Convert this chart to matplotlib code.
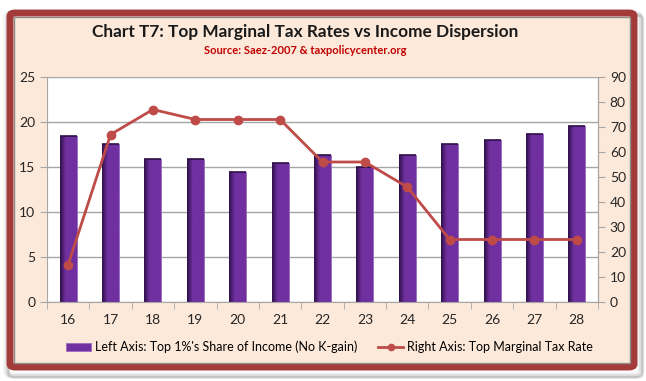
import numpy as np
import matplotlib.pyplot as plt
from matplotlib.patches import FancyBboxPatch

years = ['16', '17', '18', '19', '20', '21', '22', '23', '24', '25', '26', '27', '28']
top1_share = [18.5, 17.6, 15.9, 15.9, 14.5, 15.5, 16.3, 15.0, 16.3, 17.6, 18.0, 18.7, 19.6]
top_rate = [15, 67, 77, 73, 73, 73, 56, 56, 46, 25, 25, 25, 25]

plt.rcParams['font.family'] = ['Lato', 'DejaVu Sans']

fig = plt.figure(figsize=(6.46, 3.81), dpi=100)
fig.patch.set_facecolor('white')

# frame: shadow, dark red border, peach panel
for i, a in enumerate([0.05, 0.08, 0.12]):
    fig.patches.append(FancyBboxPatch((6 / 646 + i * 0.002, 6 / 381 - i * 0.003), 634 / 646, 362 / 381,
                                      boxstyle='round,pad=0,rounding_size=0.01', transform=fig.transFigure,
                                      facecolor='none', edgecolor='black', alpha=a, lw=4 - i, zorder=-10))
fig.patches.append(FancyBboxPatch((10 / 646, 14 / 381), 624 / 646, 354 / 381,
                                  boxstyle='round,pad=0,rounding_size=0.008', transform=fig.transFigure,
                                  facecolor='#FDE9DA', edgecolor='#A33B3B', lw=5, zorder=-9))
fig.patches.append(FancyBboxPatch((14 / 646, 18 / 381), 616 / 646, 346 / 381,
                                  boxstyle='square,pad=0', transform=fig.transFigure,
                                  facecolor='none', edgecolor='#8C8C8C', lw=1, zorder=-8))

ax = fig.add_axes([47 / 646, 1 - 302 / 381, 551 / 646, 225 / 381])
ax.set_facecolor('white')
x = np.arange(len(years))

bars = ax.bar(x, top1_share, width=0.4, color='#7030A0', edgecolor='#9A6BC0', lw=0.6, zorder=2,
              label="Left Axis: Top 1%'s Share of Income (No K-gain)")
# horizontal shading on each bar
grad = np.linspace(0, 1, 64)
shade = np.clip(grad * 3, 0, 1)
cols = np.zeros((1, 64, 4))
base = np.array([0x70, 0x30, 0xA0]) / 255
dark = np.array([0x2E, 0x10, 0x48]) / 255
for k in range(64):
    cols[0, k, :3] = dark + (base - dark) * shade[k]
    cols[0, k, 3] = 1
for b in bars:
    x0, y0 = b.get_x(), b.get_y()
    w, h = b.get_width(), b.get_height()
    im = ax.imshow(cols, extent=[x0, x0 + w, y0, y0 + h], aspect='auto', zorder=2.1, interpolation='bilinear')
    im.set_clip_path(b)
    ax.plot([x0, x0 + w], [h, h], color='#2E1048', lw=1.2, zorder=2.2, solid_capstyle='butt')

ax.set_xlim(-0.5, len(years) - 0.5)
ax.set_ylim(0, 25)
ax.set_yticks(range(0, 26, 5))
ax.set_xticks(x)
ax.set_xticklabels(years)
ax.set_xticks(np.arange(-0.5, len(years), 1), minor=True)
ax.grid(axis='y', color='#A6A6A6', lw=1, zorder=0)
ax.set_axisbelow(True)
for s in ['top']:
    ax.spines[s].set_visible(False)
for s in ['left', 'right', 'bottom']:
    ax.spines[s].set_color('#A6A6A6')
ax.tick_params(axis='x', which='major', length=0, pad=9, labelsize=10, colors='#262626')
ax.tick_params(axis='x', which='minor', length=5, color='#A6A6A6')
ax.tick_params(axis='y', length=5, color='#A6A6A6', labelsize=10, labelcolor='#262626')

ax2 = ax.twinx()
ax2.plot(x, top_rate, color='#BE4B48', lw=2.0, marker='o', ms=6, zorder=3,
         label='Right Axis: Top Marginal Tax Rate')
ax2.set_ylim(0, 90)
ax2.set_yticks(range(0, 91, 10))
for s in ['top', 'left', 'bottom']:
    ax2.spines[s].set_visible(False)
ax2.spines['right'].set_color('#A6A6A6')
ax2.tick_params(axis='y', length=5, color='#A6A6A6', labelsize=10, labelcolor='#262626')

fig.text(0.472, 1 - 32 / 381, 'Chart T7: Top Marginal Tax Rates vs Income Dispersion',
         ha='center', va='center', fontsize=12.4, fontweight='bold', color='#1A1A1A')
fig.text(0.472, 1 - 50 / 381, 'Source: Saez-2007 & taxpolicycenter.org',
         ha='center', va='center', fontsize=8, fontweight='bold', color='#C00000')

h1, l1 = ax.get_legend_handles_labels()
h2, l2 = ax2.get_legend_handles_labels()
leg = fig.legend(h1 + h2, l1 + l2, loc='center', bbox_to_anchor=(0.51, 1 - 347 / 381), ncol=2,
                 frameon=False, fontsize=9, handlelength=2.0, handleheight=0.6, handletextpad=0.3,
                 columnspacing=1.7, markerscale=0.75)

fig.savefig('out.png', dpi=100)
